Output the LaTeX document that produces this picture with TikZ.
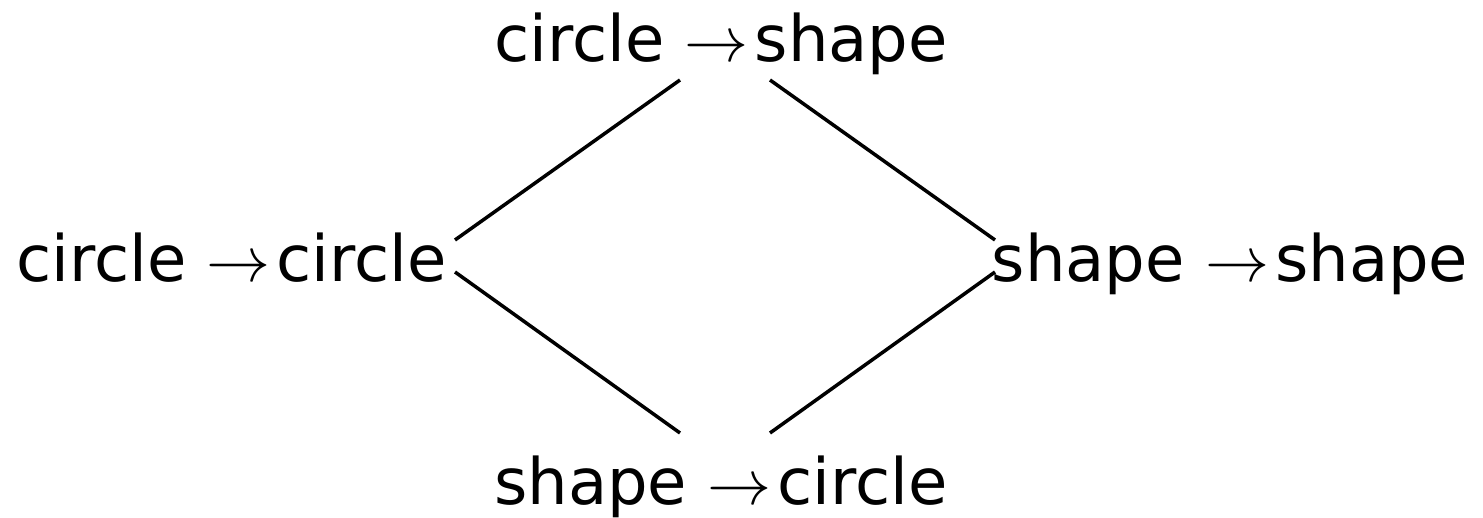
\documentclass[tikz,border=0pt]{standalone}
\usepackage{fontspec}
\setmainfont{DejaVu Sans}
\DeclareFontShape{OMS}{cmsy}{m}{n}{<->cmsy10}{}
\DeclareFontShape{OML}{cmm}{m}{it}{<->cmmi10}{}
\newcommand{\myto}{$\rightarrow$\hspace{6pt}}
\begin{document}
\begin{tikzpicture}[x=1pt,y=1pt,
  lbl/.style={anchor=base,inner sep=0pt,font=\fontsize{64}{70}\selectfont},
  edge/.style={line width=3.5pt}]
\useasboundingbox (0,0) rectangle (1483,518);
\node[lbl] (top) at (721,456) {circle \myto shape};
\node[lbl] (left) at (231.5,236) {circle \myto circle};
\node[lbl] (right) at (1230,236) {shape \myto shape};
\node[lbl] (bot) at (721,13) {shape \myto circle};
\coordinate (tl) at (680,438);
\coordinate (tr) at (770,438);
\coordinate (bl) at (680,85);
\coordinate (br) at (770,85);
\coordinate (le1) at (455,278);
\coordinate (le2) at (455,246);
\coordinate (ri1) at (995,278);
\coordinate (ri2) at (995,246);
\draw[edge] (le1) -- (tl);
\draw[edge] (tr) -- (ri1);
\draw[edge] (le2) -- (bl);
\draw[edge] (br) -- (ri2);
\end{tikzpicture}
\end{document}
